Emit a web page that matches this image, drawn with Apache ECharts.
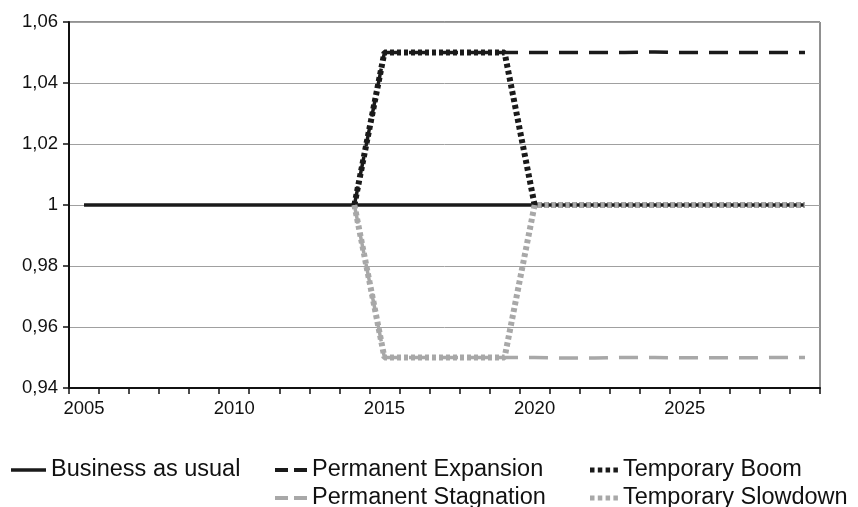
<!DOCTYPE html>
<html>
<head>
<meta charset="utf-8">
<script src="https://cdn.jsdelivr.net/npm/echarts@6/dist/echarts.min.js"></script>
<style>html,body{margin:0;padding:0;background:#fff}#c{width:858px;height:507px}</style>
</head>
<body>
<div id="c"></div>
<script>
const years = ['2005','2006','2007','2008','2009','2010','2011','2012','2013','2014','2015','2016','2017','2018','2019','2020','2021','2022','2023','2024','2025','2026','2027','2028','2029'];
const businessAsUsual = [1,1,1,1,1,1,1,1,1,1,1,1,1,1,1,1,1,1,1,1,1,1,1,1,1];
const permanentExpansion = [null,null,null,null,null,null,null,null,null,1,1.05,1.05,1.05,1.05,1.05,1.05,1.05,1.05,1.05,1.0502,1.05,1.05,1.05,1.05,1.05];
const temporaryBoom = [null,null,null,null,null,null,null,null,null,1,1.05,1.05,1.05,1.05,1.05,1,1,1,1,1,1,1,1,1,1];
const permanentStagnation = [null,null,null,null,null,null,null,null,null,1,0.95,0.95,0.95,0.95,0.95,0.95,0.9498,0.9498,0.95,0.95,0.9499,0.9499,0.9499,0.95,0.95];
const temporarySlowdown = [null,null,null,null,null,null,null,null,null,1,0.95,0.95,0.95,0.95,0.95,1,1,1,1,1,1,1,1,1,1];

const BLACK = '#1a1a1a';
const GRAY = '#a8a8a8';
const FONT = 'Liberation Sans, Arial, sans-serif';

const ICON_SOLID = 'path://M0,0h35v3.5h-35z';
const ICON_DASH = 'path://M0,0h13v4h-13zM19,0h13v4h-13z';
const ICON_DOT = 'path://M0,0h4.5v5h-4.5zM7.8,0h4.5v5h-4.5zM15.6,0h4.5v5h-4.5zM23.4,0h4.5v5h-4.5z';

const chart = echarts.init(document.getElementById('c'), null, {renderer: 'canvas'});
const legendText = {fontFamily: FONT, fontSize: 23.5, color: '#111', lineHeight: 28};
function leg(name, icon, w, h, left, top) {
  return {left: left, top: top, icon: icon, itemWidth: w, itemHeight: h, itemGap: 0,
    textStyle: legendText, data: [name]};
}
chart.setOption({
  backgroundColor: '#fff',
  animation: false,
  grid: {left: 69, right: 38, top: 22, bottom: 119, containLabel: false, show: true, borderColor: '#222', borderWidth: 1},
  xAxis: {
    type: 'category',
    data: years,
    boundaryGap: true,
    axisLine: {lineStyle: {color: '#111', width: 2}},
    axisTick: {show: true, interval: 0, length: 6, lineStyle: {color: '#111', width: 1.5}},
    axisLabel: {interval: 4, margin: 11, fontFamily: FONT, fontSize: 18.5, color: '#111'},
    splitLine: {show: false}
  },
  yAxis: {
    type: 'value',
    min: 0.94, max: 1.06, interval: 0.02,
    axisLine: {show: true, lineStyle: {color: '#111', width: 2}},
    axisTick: {show: true, length: 6, lineStyle: {color: '#111', width: 1.5}},
    axisLabel: {margin: 11, fontFamily: FONT, fontSize: 18.5, color: '#111',
      formatter: v => String(Number(v.toFixed(2))).replace('.', ',')},
    splitLine: {show: true, lineStyle: {color: '#a0a0a0', width: 1}}
  },
  legend: [
    leg('Business as usual', ICON_SOLID, 35, 3.5, 6, 451),
    leg('Permanent Expansion', ICON_DASH, 32, 4, 270, 451),
    leg('Permanent Stagnation', ICON_DASH, 32, 4, 270, 479),
    leg('Temporary Boom', ICON_DOT, 28, 5, 585, 451),
    leg('Temporary Slowdown', ICON_DOT, 28, 5, 585, 479)
  ],
  series: [
    {name: 'Business as usual', type: 'line', data: businessAsUsual, symbol: 'none', color: BLACK,
     lineStyle: {color: BLACK, width: 3.5, type: 'solid'}},
    {name: 'Permanent Expansion', type: 'line', data: permanentExpansion, symbol: 'none', color: BLACK,
     lineStyle: {color: BLACK, width: 3.5, type: [19, 11]}},
    {name: 'Temporary Boom', type: 'line', data: temporaryBoom, symbol: 'none', color: BLACK,
     lineStyle: {color: BLACK, width: 6, type: [4, 3]}},
    {name: 'Permanent Stagnation', type: 'line', data: permanentStagnation, symbol: 'none', color: GRAY,
     lineStyle: {color: GRAY, width: 3.5, type: [19, 11]}},
    {name: 'Temporary Slowdown', type: 'line', data: temporarySlowdown, symbol: 'none', color: GRAY,
     lineStyle: {color: GRAY, width: 6, type: [4, 3]}}
  ]
});
</script>
</body>
</html>
